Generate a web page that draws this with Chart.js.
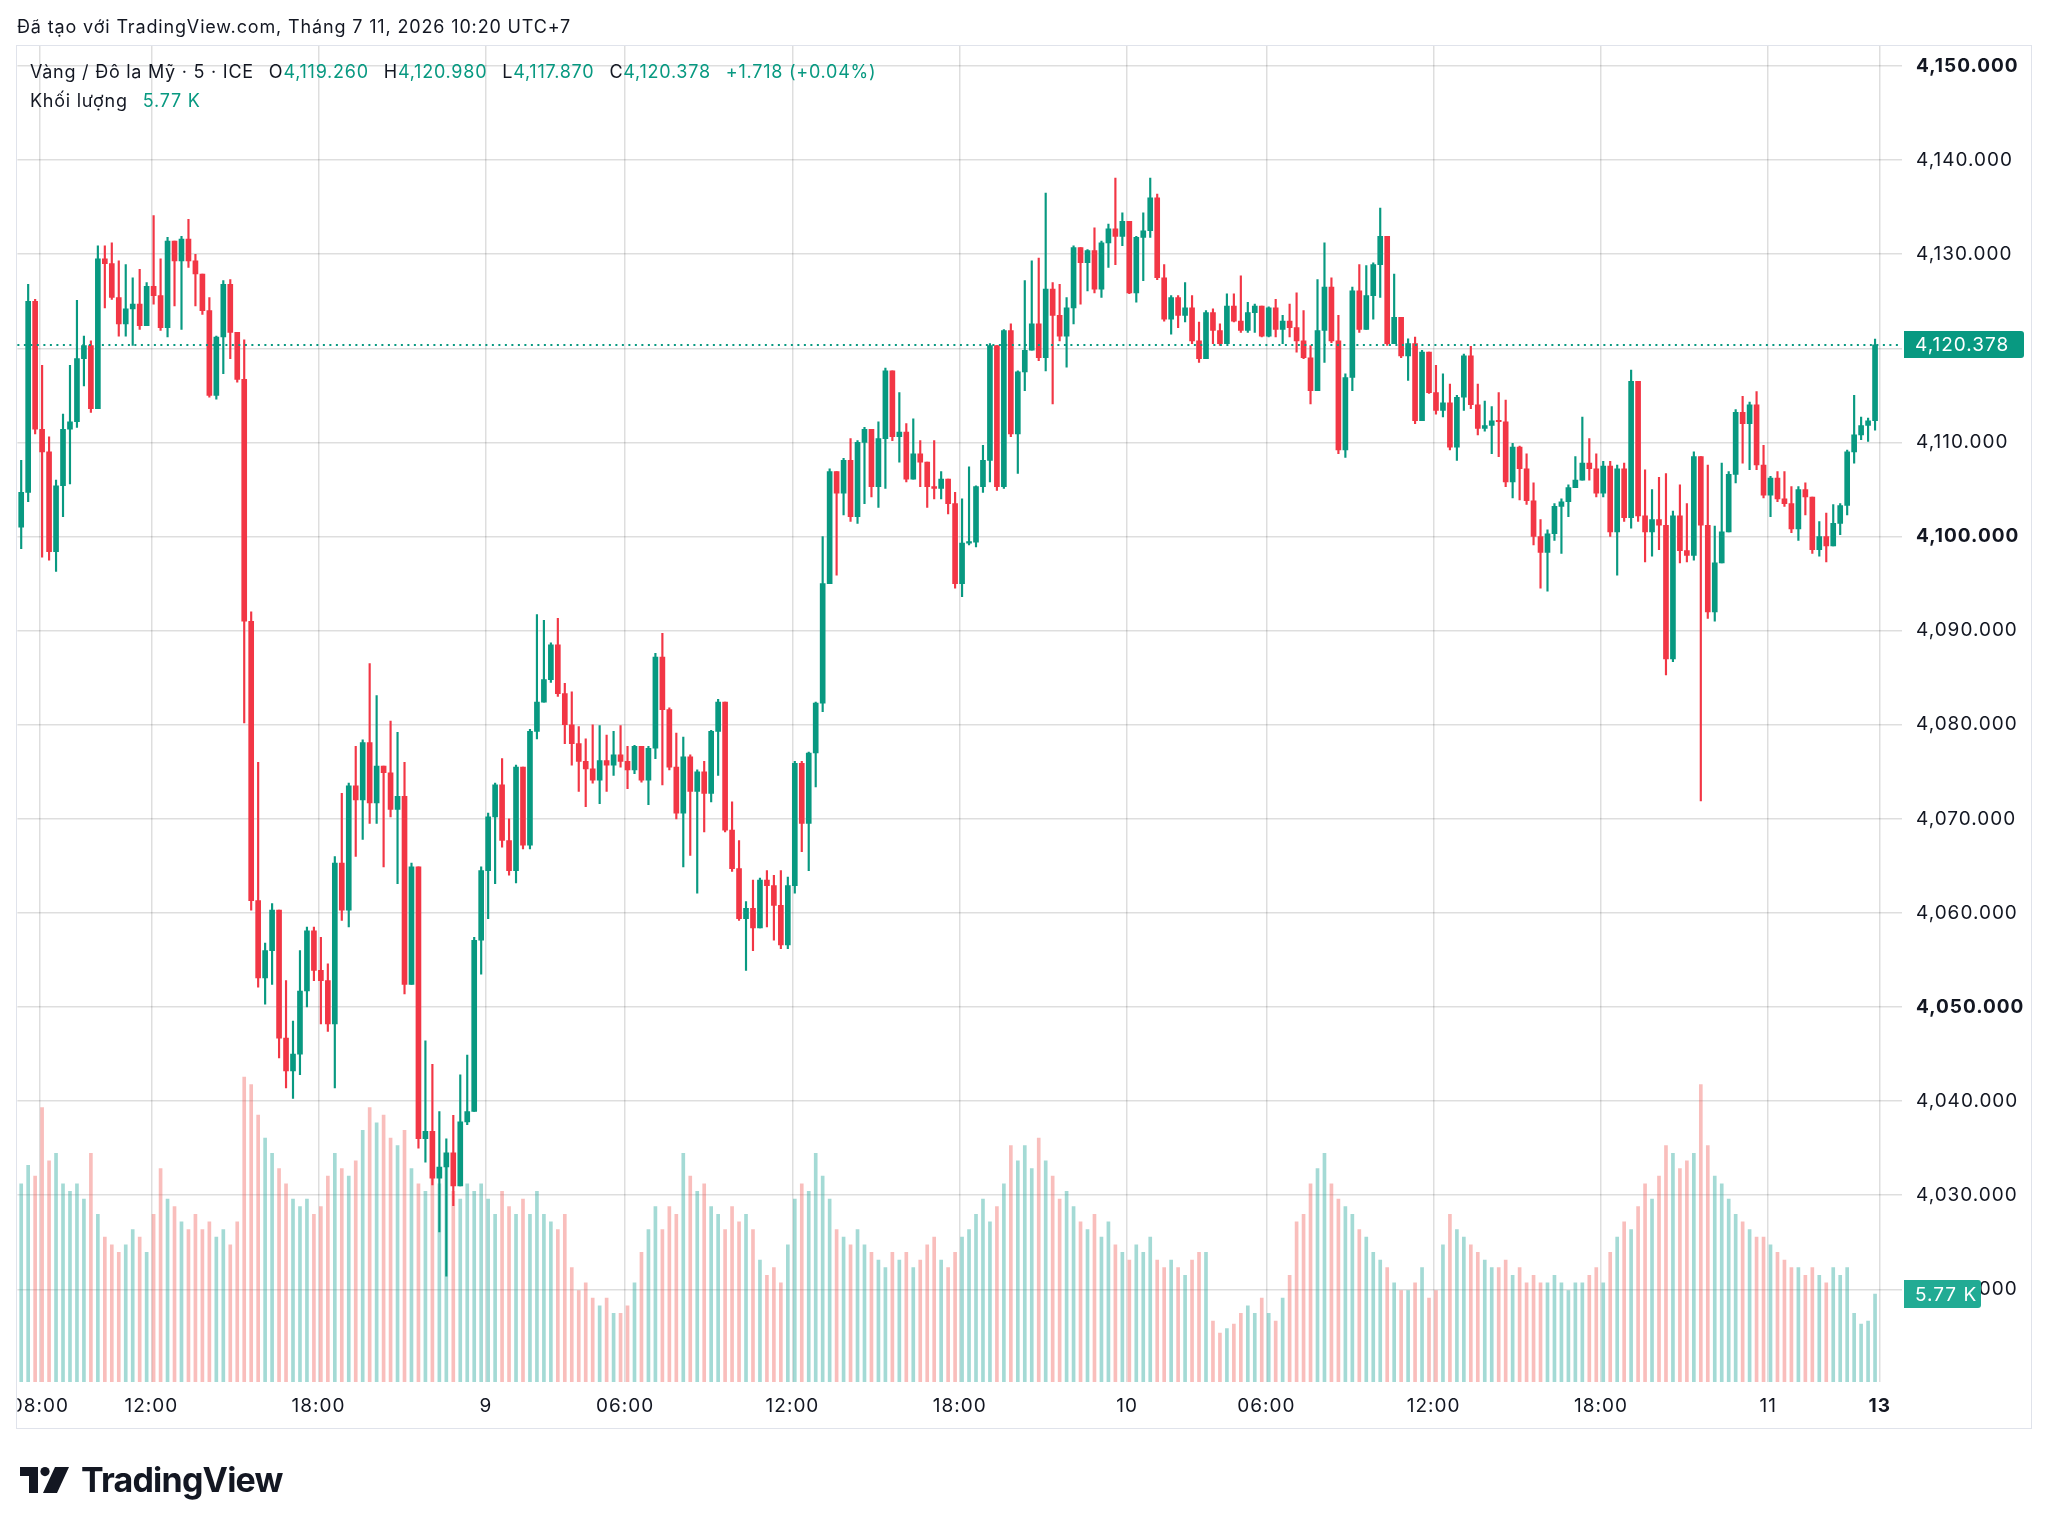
<!DOCTYPE html>
<html lang="vi">
<head>
<meta charset="utf-8">
<title>Vàng / Đô la Mỹ · 5 · ICE</title>
<script src="https://cdn.jsdelivr.net/npm/chart.js@4.4.1/dist/chart.umd.min.js"></script>
<style>
html,body{margin:0;padding:0;background:#fff;}
body{width:2048px;height:1529px;position:relative;overflow:hidden;font-family:Inter,"Noto Sans",sans-serif;color:#131722;}
#c{position:absolute;left:0;top:0;}
.hdr{position:absolute;left:17px;top:15px;font-size:18px;line-height:24px;white-space:nowrap;letter-spacing:0.85px;}
.leg{position:absolute;left:30px;font-size:18px;line-height:24px;white-space:nowrap;letter-spacing:0.75px;}
.v{color:#089981;}
.g{margin-left:15px;}
.logo{position:absolute;left:20px;top:1467px;}
.brand{position:absolute;left:81px;top:1463px;font-size:34px;line-height:34px;font-weight:700;letter-spacing:-0.8px;color:#131722;}
</style>
</head>
<body>
<canvas id="c" width="2048" height="1529"></canvas>
<div class="hdr">Đã tạo với TradingView.com, Tháng 7 11, 2026 10:20 UTC+7</div>
<div class="leg" style="top:60px">Vàng / Đô la Mỹ · 5 · ICE<span class="g">O</span><span class="v">4,119.260</span><span class="g">H</span><span class="v">4,120.980</span><span class="g">L</span><span class="v">4,117.870</span><span class="g">C</span><span class="v">4,120.378</span><span class="g v">+1.718</span> <span class="v">(+0.04%)</span></div>
<div class="leg" style="top:89px">Khối lượng<span class="g v">5.77 K</span></div>
<svg class="logo" width="49" height="26" viewBox="0 0 49 26">
<path d="M0 0H18V26H9V9H0Z" fill="#131722"/>
<circle cx="25" cy="4.6" r="4.6" fill="#131722"/>
<path d="M35 0H49L37 26H23Z" fill="#131722"/>
</svg>
<div class="brand">TradingView</div>
<script>
// ---- data (15-minute bars) ----
const FIRST_OPEN = 4101.0;
const HIGH = [4108.1,4126.8,4125.2,4118.2,4110.6,4106.0,4113.0,4118.2,4125.1,4121.3,
4120.8,4130.9,4130.9,4131.2,4129.3,4128.9,4127.5,4128.4,4127.0,4134.1,
4129.5,4131.8,4130.0,4131.9,4133.7,4130.0,4127.2,4125.4,4121.3,4127.2,
4127.3,4121.5,4120.9,4092.0,4076.0,4056.8,4061.0,4058.8,4052.8,4048.5,
4056.0,4058.5,4058.5,4057.4,4054.6,4066.0,4072.7,4073.8,4077.7,4078.4,
4086.5,4083.1,4075.6,4080.4,4079.2,4076.0,4065.3,4061.3,4046.4,4043.9,
4038.9,4036.0,4038.5,4042.8,4044.9,4057.4,4064.9,4070.6,4073.8,4076.4,
4070.0,4075.7,4075.2,4079.5,4091.7,4091.1,4088.7,4091.3,4084.4,4083.5,
4079.8,4078.5,4080.0,4079.9,4078.9,4079.3,4079.9,4077.7,4077.8,4077.7,
4077.7,4087.6,4089.7,4081.8,4079.1,4078.7,4076.8,4075.2,4076.1,4079.4,
4082.7,4081.7,4071.8,4067.7,4061.2,4063.5,4063.7,4064.5,4064.0,4064.5,
4063.8,4076.1,4076.1,4077.1,4082.4,4100.0,4107.2,4106.3,4108.3,4110.4,
4110.2,4111.6,4111.3,4112.2,4117.9,4116.7,4115.3,4112.0,4112.5,4110.2,
4107.9,4110.2,4106.9,4105.4,4104.7,4104.0,4107.4,4105.4,4109.7,4120.5,
4117.5,4122.0,4122.6,4117.6,4127.2,4129.3,4129.6,4136.5,4127.0,4126.8,
4125.4,4130.9,4129.3,4130.5,4132.8,4131.4,4133.2,4138.1,4134.4,4133.2,
4131.9,4134.4,4138.1,4136.4,4128.9,4125.6,4125.6,4127.0,4125.6,4122.8,
4124.0,4124.2,4122.6,4125.8,4125.8,4127.7,4124.9,4124.7,4124.2,4124.4,
4125.2,4123.5,4124.7,4125.9,4124.0,4120.3,4127.3,4131.2,4127.5,4123.5,
4117.3,4126.5,4128.9,4128.8,4129.1,4134.9,4131.9,4127.9,4123.3,4121.0,
4121.2,4119.8,4119.2,4118.2,4117.3,4116.2,4115.0,4119.4,4120.2,4116.2,
4114.4,4113.8,4115.3,4114.5,4109.9,4109.6,4108.8,4105.7,4101.8,4100.7,
4103.5,4104.0,4105.5,4108.5,4112.7,4110.4,4108.8,4108.0,4108.0,4107.6,
4107.8,4117.7,4116.5,4107.1,4105.0,4106.3,4106.7,4102.7,4105.5,4103.5,
4109.0,4107.8,4107.6,4101.1,4107.8,4106.9,4113.5,4114.9,4114.3,4115.4,
4109.7,4106.4,4106.9,4106.9,4105.3,4105.3,4105.7,4103.8,4101.6,4102.5,
4103.4,4103.5,4109.2,4115.0,4112.7,4112.6,4120.98];
const LOW = [4098.7,4103.7,4110.9,4097.8,4097.5,4096.3,4102.1,4105.6,4111.6,4116.0,
4113.2,4114.5,4124.3,4125.2,4121.3,4121.3,4120.3,4122.0,4124.0,4124.7,
4121.9,4121.2,4124.5,4122.0,4128.6,4124.5,4123.6,4114.8,4114.6,4117.3,
4118.9,4116.4,4080.2,4060.3,4052.1,4050.3,4052.4,4044.6,4041.4,4040.3,
4042.8,4050.0,4052.8,4048.2,4047.4,4041.4,4059.2,4058.5,4066.0,4067.8,
4069.5,4069.5,4064.9,4070.2,4063.1,4051.4,4052.4,4035.0,4033.5,4031.1,
4026.1,4021.4,4028.9,4032.8,4037.5,4038.9,4053.5,4059.4,4063.1,4067.0,
4064.0,4063.2,4066.8,4066.8,4078.5,4084.2,4084.5,4083.0,4078.0,4075.7,
4072.9,4071.3,4073.8,4071.6,4072.9,4074.6,4075.5,4073.2,4074.8,4073.9,
4071.5,4076.4,4073.6,4075.2,4070.0,4064.9,4066.1,4062.1,4068.6,4071.8,
4074.6,4068.6,4064.4,4059.2,4053.9,4056.0,4059.2,4058.5,4057.1,4056.2,
4056.2,4062.1,4066.5,4064.5,4073.4,4081.4,4096.1,4095.9,4102.3,4101.6,
4101.4,4103.5,4104.2,4103.1,4105.1,4110.2,4107.9,4105.8,4106.1,4105.3,
4103.1,4104.0,4104.0,4102.4,4094.5,4093.6,4099.1,4098.9,4104.7,4105.8,
4104.9,4105.1,4110.6,4106.7,4115.5,4121.5,4118.7,4117.6,4114.1,4120.8,
4118.0,4122.6,4124.7,4126.1,4125.9,4125.4,4128.6,4128.9,4130.9,4125.8,
4124.9,4127.2,4131.8,4127.3,4122.9,4121.5,4122.2,4122.8,4120.5,4118.5,
4118.9,4120.5,4120.3,4120.5,4122.8,4121.7,4121.7,4121.7,4121.2,4121.2,
4121.2,4120.5,4121.2,4119.6,4118.9,4114.1,4115.5,4118.5,4120.6,4108.8,
4108.4,4115.5,4121.7,4122.2,4123.1,4125.4,4120.3,4120.5,4119.0,4116.6,
4112.0,4112.3,4115.2,4113.0,4112.7,4109.2,4108.1,4113.4,4113.6,4110.8,
4111.2,4108.8,4108.5,4105.3,4104.1,4103.9,4103.4,4099.1,4094.5,4094.2,
4099.6,4098.2,4102.1,4105.5,4106.5,4106.0,4104.2,4104.2,4100.0,4095.9,
4101.6,4100.9,4101.6,4097.3,4097.9,4098.6,4085.3,4086.7,4097.2,4097.3,
4097.5,4071.9,4091.3,4091.0,4097.3,4100.5,4105.7,4107.8,4107.1,4107.1,
4104.1,4102.1,4103.7,4103.2,4100.4,4099.6,4102.3,4098.2,4097.9,4097.3,
4100.9,4100.2,4102.3,4107.8,4110.3,4110.1,4111.3];
const CLOSE = [4104.7,4125.0,4111.4,4109.0,4098.4,4105.4,4111.4,4112.2,4118.9,4120.3,
4113.6,4129.5,4129.0,4125.4,4122.6,4124.2,4124.7,4122.4,4126.6,4125.6,
4122.2,4131.4,4129.3,4131.6,4129.3,4127.9,4124.0,4115.0,4121.2,4126.8,
4121.7,4116.7,4091.0,4061.3,4053.1,4056.0,4060.3,4046.7,4043.2,4045.0,
4051.7,4058.1,4053.9,4052.8,4048.2,4065.3,4060.3,4073.5,4072.0,4078.1,
4071.7,4075.6,4074.9,4071.0,4072.4,4052.4,4064.9,4036.0,4036.8,4031.8,
4033.0,4034.5,4031.0,4037.8,4038.9,4057.1,4064.5,4070.2,4073.6,4067.7,
4064.5,4075.5,4067.2,4079.3,4082.4,4084.8,4088.5,4083.3,4080.0,4078.0,
4076.1,4075.3,4074.1,4076.2,4075.7,4076.8,4076.1,4075.2,4077.7,4074.1,
4077.5,4087.2,4081.6,4075.5,4070.6,4076.6,4072.9,4075.0,4072.7,4079.3,
4082.4,4068.8,4064.7,4059.4,4060.5,4058.4,4063.5,4062.9,4060.8,4056.6,
4062.9,4075.9,4069.5,4077.0,4082.3,4095.0,4106.9,4104.6,4108.1,4102.1,
4110.0,4111.4,4105.3,4110.4,4117.6,4110.6,4111.1,4106.1,4108.8,4107.9,
4105.3,4105.1,4106.1,4103.5,4095.0,4099.3,4099.4,4105.3,4108.1,4120.3,
4105.3,4121.9,4110.9,4117.5,4119.8,4122.6,4119.0,4126.3,4123.5,4121.3,
4124.3,4130.7,4129.1,4130.4,4126.3,4131.2,4132.7,4131.9,4133.5,4125.9,
4131.8,4132.5,4136.0,4127.5,4123.1,4125.4,4123.5,4124.3,4120.8,4118.9,
4123.8,4121.9,4120.5,4124.5,4122.9,4121.9,4123.8,4124.5,4121.3,4124.3,
4122.0,4122.9,4122.2,4120.8,4119.0,4115.5,4121.9,4126.5,4120.8,4109.2,
4116.9,4126.1,4122.0,4125.6,4128.9,4131.9,4120.5,4123.3,4119.2,4120.5,
4112.3,4119.6,4115.3,4113.4,4114.2,4109.5,4114.8,4119.2,4114.0,4111.5,
4111.8,4112.3,4112.2,4105.8,4109.5,4107.2,4103.8,4100.0,4098.3,4100.3,
4103.2,4103.7,4105.2,4106.0,4107.8,4107.2,4104.6,4107.5,4100.5,4107.2,
4102.0,4116.5,4102.2,4100.5,4101.8,4101.2,4087.0,4102.2,4098.5,4098.0,
4108.5,4101.2,4092.0,4097.2,4100.5,4106.6,4113.2,4112.0,4114.0,4107.6,
4104.4,4106.2,4104.0,4103.5,4100.8,4105.0,4104.2,4098.6,4100.0,4099.0,
4101.4,4103.3,4109.0,4110.8,4111.8,4112.3,4120.378];
const VOLUME_K = [13.0,14.2,13.5,18.0,14.5,15.0,13.0,12.5,13.0,12.0,
15.0,11.0,9.5,9.0,8.5,9.0,10.0,9.5,8.5,11.0,
14.0,12.0,11.5,10.5,10.0,11.0,10.0,10.5,9.5,10.0,
9.0,10.5,20.0,19.5,17.5,16.0,15.0,14.0,13.0,12.0,
11.5,12.0,11.0,11.5,13.5,15.0,14.0,13.5,14.5,16.5,
18.0,17.0,17.5,16.0,15.5,16.5,14.0,13.0,12.5,13.5,
13.0,14.5,12.5,12.0,13.0,12.5,13.0,12.0,11.0,12.5,
11.5,11.0,12.0,11.0,12.5,11.0,10.5,10.0,11.0,7.5,
6.0,6.5,5.5,5.0,5.5,4.5,4.5,5.0,6.5,8.5,
10.0,11.5,10.0,11.5,11.0,15.0,13.5,12.5,13.0,11.5,
11.0,10.0,11.5,10.5,11.0,10.0,8.0,7.0,7.5,6.5,
9.0,12.0,13.0,12.5,15.0,13.5,12.0,10.0,9.5,9.0,
10.0,9.0,8.5,8.0,7.5,8.5,8.0,8.5,7.5,8.0,
9.0,9.5,8.0,7.5,8.5,9.5,10.0,11.0,12.0,10.5,
11.5,13.0,15.5,14.5,15.5,14.0,16.0,14.5,13.5,12.0,
12.5,11.5,10.5,10.0,11.0,9.5,10.5,9.0,8.5,8.0,
9.0,8.5,9.5,8.0,7.5,8.0,7.5,7.0,8.0,8.5,
8.5,4.0,3.2,3.5,3.8,4.5,5.0,4.5,5.5,4.5,
4.0,5.5,7.0,10.5,11.0,13.0,14.0,15.0,13.0,12.0,
11.5,11.0,10.0,9.5,8.5,8.0,7.5,6.5,6.0,6.0,
6.5,7.5,5.5,6.0,9.0,11.0,10.0,9.5,9.0,8.5,
8.0,7.5,7.5,8.0,7.0,7.5,6.5,7.0,6.5,6.5,
7.0,6.5,6.0,6.5,6.5,7.0,7.5,6.5,8.5,9.5,
10.5,10.0,11.5,13.0,12.0,13.5,15.5,15.0,14.0,14.5,
15.0,19.5,15.5,13.5,13.0,12.0,11.0,10.5,10.0,9.5,
9.5,9.0,8.5,8.0,7.5,7.5,7.0,7.5,7.0,6.5,
7.5,7.0,7.5,4.5,3.8,4.0,5.77];
const TIME_TICK_POS = [3,19,43,67,87,111,135,159,179,203,227,251,267];
const TIME_TICK_TEXT = ['08:00','12:00','18:00','9','06:00','12:00','18:00','10','06:00','12:00','18:00','11','13'];
const PRICE_TICKS = [4020,4030,4040,4050,4060,4070,4080,4090,4100,4110,4120,4130,4140,4150];

// ---- derived ----
const OPEN = CLOSE.map((c,i)=> i===0 ? FIRST_OPEN : CLOSE[i-1]);
const HI = HIGH.map((h,i)=>Math.max(h,OPEN[i],CLOSE[i]));
const LO = LOW.map((l,i)=>Math.min(l,OPEN[i],CLOSE[i]));
const UP = CLOSE.map((c,i)=> c >= OPEN[i]);
const LAST_PRICE = CLOSE[CLOSE.length-1];
const LAST_VOL = VOLUME_K[VOLUME_K.length-1];

// ---- style ----
const GREEN='#089981', RED='#F23645';
const VGREEN='rgba(38,166,154,0.42)', VRED='rgba(239,83,80,0.38)';
const GRID='rgba(0,0,0,0.13)';
const FONT='Inter, "Noto Sans", sans-serif';
const XC = 1/3; // bar centre inside its slot

function fmt(v){return v.toLocaleString('en-US',{minimumFractionDigits:3,maximumFractionDigits:3});}
function tag(ctx,x,cy,w,h,color,text){
  const y=Math.round(cy-h/2), r=3;
  ctx.fillStyle=color;
  ctx.beginPath();
  ctx.moveTo(x,y);ctx.lineTo(x+w-r,y);ctx.quadraticCurveTo(x+w,y,x+w,y+r);
  ctx.lineTo(x+w,y+h-r);ctx.quadraticCurveTo(x+w,y+h,x+w-r,y+h);
  ctx.lineTo(x,y+h);ctx.closePath();ctx.fill();
  ctx.fillStyle='#fff';ctx.font='19px '+FONT;ctx.textBaseline='middle';ctx.textAlign='left';
  ctx.fillText(text,x+11,y+h/2+1);
}

const overlay={
  id:'overlay',
  beforeDraw(chart){const c=chart.ctx;c.fillStyle='#fff';c.fillRect(0,0,chart.width,chart.height);c.letterSpacing='1px';},
  afterDatasetsDraw(chart){
    const {ctx,chartArea:a,scales:{y}}=chart;
    const py=Math.round(y.getPixelForValue(LAST_PRICE));
    ctx.save();ctx.strokeStyle=GREEN;ctx.lineWidth=2;ctx.setLineDash([2,4.5]);
    ctx.beginPath();ctx.moveTo(a.left,py);ctx.lineTo(a.right-4,py);ctx.stroke();ctx.restore();
  },
  afterDraw(chart){
    const {ctx,chartArea:a,scales:{y,yv}}=chart;
    ctx.save();
    ctx.fillStyle='#fff';ctx.fillRect(0,a.bottom,a.left,60);
    ctx.strokeStyle='#e0e3eb';ctx.lineWidth=1;ctx.strokeRect(16.5,45.5,2015,1383);
    tag(ctx,1904,y.getPixelForValue(LAST_PRICE),120,27,GREEN,fmt(LAST_PRICE));
    tag(ctx,1904,yv.getPixelForValue(LAST_VOL),77,28,'#22ab94',LAST_VOL.toFixed(2)+' K');
    ctx.restore();
  }
};

new Chart(document.getElementById('c'),{
  type:'bar',
  data:{datasets:[
    {label:'Khối lượng',data:VOLUME_K.map((v,i)=>({x:i+XC,y:v})),yAxisID:'yv',xAxisID:'x',
     backgroundColor:UP.map(u=>u?VGREEN:VRED),barThickness:3,grouped:false,order:3,borderWidth:0},
    {label:'wick',data:HI.map((h,i)=>({x:i+XC,y:[LO[i],h]})),yAxisID:'y',xAxisID:'x',
     backgroundColor:UP.map(u=>u?GREEN:RED),barThickness:1.5,grouped:false,order:2,borderWidth:0},
    {label:'body',data:CLOSE.map((c,i)=>({x:i+XC,y:[OPEN[i],c]})),yAxisID:'y',xAxisID:'x',
     backgroundColor:UP.map(u=>u?GREEN:RED),barThickness:5,minBarLength:1.5,grouped:false,order:1,borderWidth:0}
  ]},
  options:{
    responsive:false,animation:false,devicePixelRatio:1,
    layout:{padding:{left:16,right:16,top:46,bottom:101}},
    plugins:{legend:{display:false},tooltip:{enabled:false}},
    scales:{
      x:{type:'linear',position:'bottom',min:-0.215,max:270.2,offset:false,
         afterBuildTicks:s=>{s.ticks=TIME_TICK_POS.map(v=>({value:v}));},
         afterFit:s=>{s.height=46;},
         grid:{color:GRID,lineWidth:1.5,drawTicks:false,offset:false},border:{display:false},
         ticks:{autoSkip:false,maxRotation:0,padding:13,color:'#131722',
           font:c=>({family:FONT,size:19,weight:(c.tick&&c.tick.value===267)?'bold':'normal'}),
           callback:v=>TIME_TICK_TEXT[TIME_TICK_POS.indexOf(v)]}},
      y:{type:'linear',position:'right',min:4010.15,max:4152.13,
         afterBuildTicks:s=>{s.ticks=PRICE_TICKS.map(v=>({value:v}));},
         afterFit:s=>{s.width=130;},
         grid:{color:GRID,lineWidth:1.5,drawTicks:false,offset:false},border:{display:false},
         ticks:{padding:14,color:'#131722',
           font:c=>({family:FONT,size:19,weight:(c.tick&&c.tick.value%50===0)?'bold':'normal'}),
           callback:v=>fmt(v)}},
      yv:{type:'linear',display:false,min:0,max:87.6}
    }
  },
  plugins:[overlay]
});
</script>
</body>
</html>
